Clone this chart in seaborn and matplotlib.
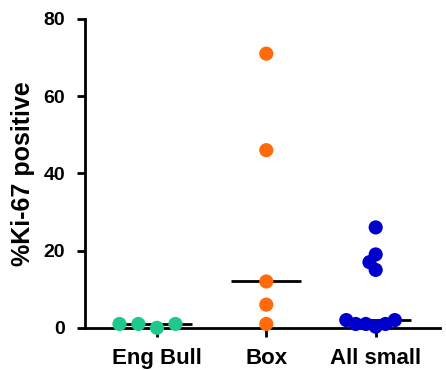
import matplotlib
matplotlib.use("Agg")
import types
import matplotlib.pyplot as plt
from matplotlib.collections import PathCollection
import seaborn as sns
import pandas as pd
import numpy as np

categories = ["Eng Bull", "Box", "All small"]
eng_bull = [1, 0, 1, 1]
box = [71, 46, 12, 6, 1]
all_small = [26, 19, 17, 15, 2, 2, 1, 1, 1, 0.3]
colors = ["#1ec98b", "#ff6a0d", "#0000cc"]

df = pd.DataFrame({
    "group": ["Eng Bull"] * len(eng_bull) + ["Box"] * len(box) + ["All small"] * len(all_small),
    "value": eng_bull + box + all_small,
})

sns.set_style("ticks")
plt.rcParams["font.family"] = ["Liberation Sans", "DejaVu Sans"]
plt.rcParams["font.weight"] = "bold"
plt.rcParams["text.color"] = "black"
plt.rcParams["axes.labelcolor"] = "black"
plt.rcParams["xtick.color"] = "black"
plt.rcParams["ytick.color"] = "black"

fig = plt.figure(figsize=(4.46, 3.70), dpi=100)
ax = fig.add_axes([0.19, 0.114, 0.797, 0.835])

sns.boxplot(data=df, x="group", y="value", order=categories, width=0.64,
            showbox=False, showcaps=False, showfliers=False,
            whiskerprops={"visible": False},
            medianprops={"color": "black", "linewidth": 2, "zorder": 1},
            ax=ax)

# swarm spacing per group (the original spreads some groups more than others)
layout_size = {"Eng Bull": 13, "Box": 10, "All small": 7}
n_before = len(ax.collections)
for cat, col in zip(categories, colors):
    sns.swarmplot(data=df[df["group"] == cat], x="group", y="value", order=categories,
                  color=col, size=layout_size[cat], ax=ax, zorder=3, linewidth=0)

ax.set_ylim(0, 80)
ax.set_xlim(-0.66, 2.59)
ax.set_yticks([0, 20, 40, 60, 80])
ax.set_xlabel("")
ax.set_ylabel("%Ki-67 positive", fontsize=18, fontweight="bold", labelpad=6)
ax.tick_params(axis="y", width=2, length=6, pad=8, labelsize=14, color="black", labelcolor="black")
ax.tick_params(axis="x", width=2, length=6.5, pad=8, labelsize=16, color="black", labelcolor="black")
for lab in ax.get_xticklabels() + ax.get_yticklabels():
    lab.set_fontweight("bold")
for s in ["top", "right"]:
    ax.spines[s].set_visible(False)
for s in ["left", "bottom"]:
    ax.spines[s].set_linewidth(2)
    ax.spines[s].set_color("black")

# let seaborn lay out the swarm, then give every dot the same size
fig.canvas.draw()
for c in ax.collections[n_before:]:
    c.draw = types.MethodType(PathCollection.draw, c)
    c.set_sizes([10.2 ** 2] * len(c.get_offsets()))
    c.set_clip_on(False)

fig.savefig("out.png", dpi=100)
